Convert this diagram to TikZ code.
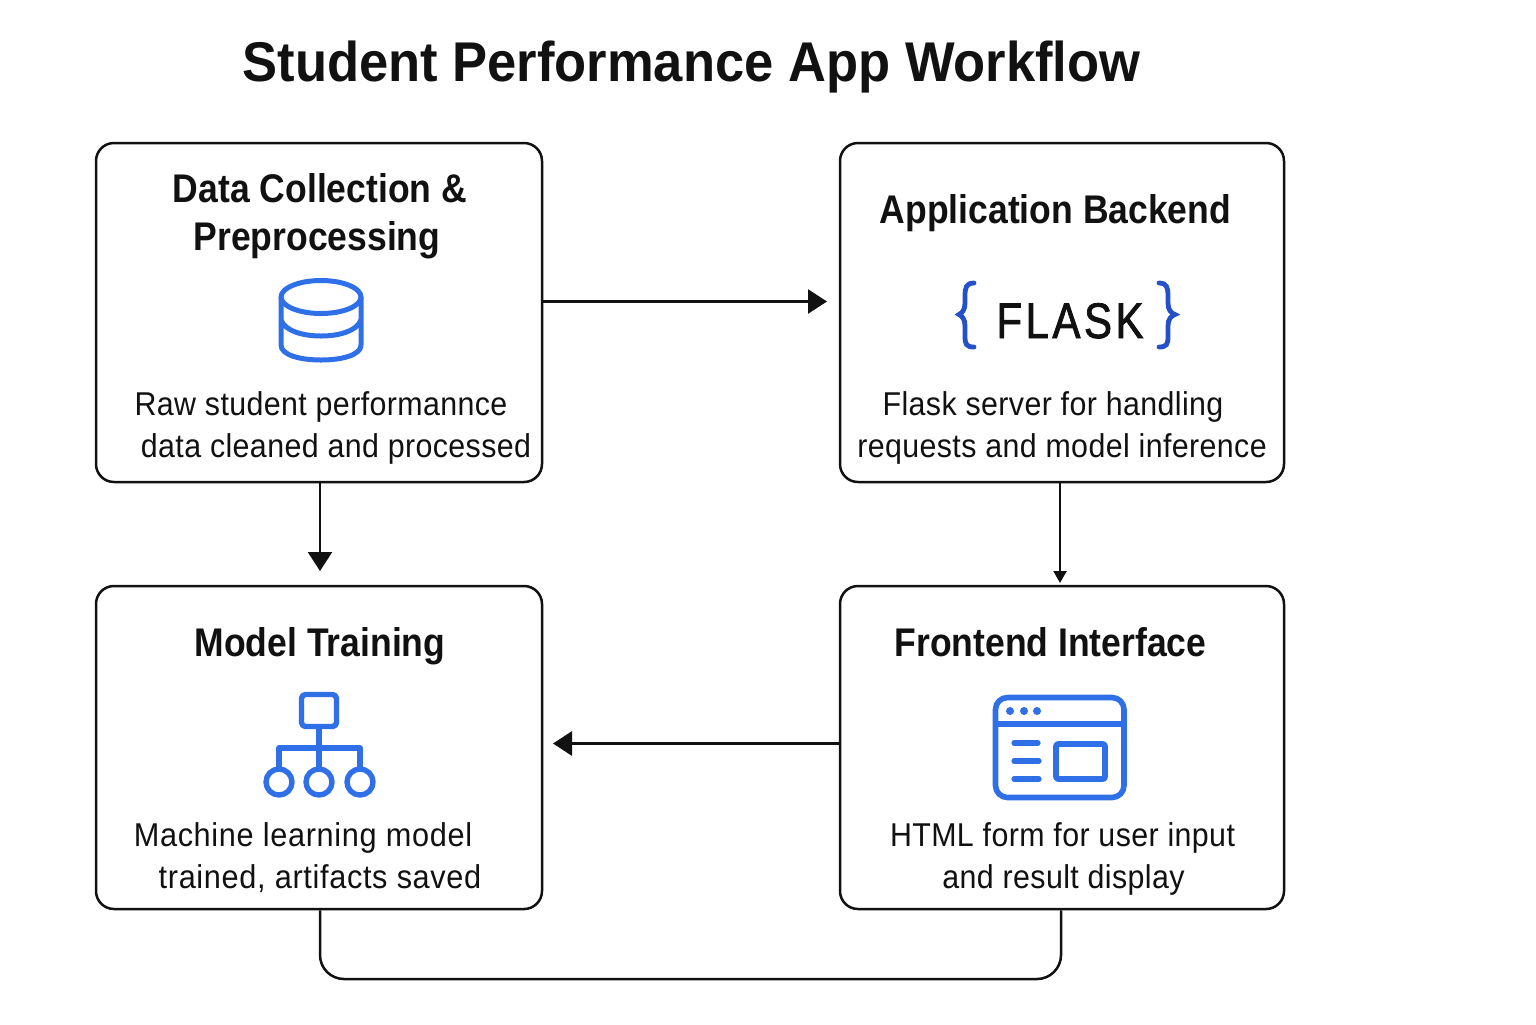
\documentclass[tikz,border=0pt]{standalone}
\usepackage{fontspec}
\usetikzlibrary{arrows.meta}
\setmainfont{Liberation Sans}
\newfontfamily\bodyf[FakeStretch=0.92,LetterSpace=1.2]{Liberation Sans}
\newfontfamily\bodywidef[FakeStretch=0.93,LetterSpace=2]{Liberation Sans}
\newfontfamily\headf[FakeStretch=0.888]{Liberation Sans Bold}
\newfontfamily\bigf[FakeStretch=0.938]{Liberation Sans Bold}
\newfontfamily\flaskf[FakeStretch=0.84,FakeBold=1.6,LetterSpace=7]{Liberation Sans}
\definecolor{iconblue}{HTML}{2F6FE8}
\definecolor{bracedark}{HTML}{2450C8}
\definecolor{ink}{HTML}{111111}
\tikzset{
  x=0.5pt,y=-0.5pt,
  card/.style={draw=ink,line width=1.25pt,rounded corners=9pt,fill=white,inner sep=0pt,minimum width=#1},
  titletext/.style={anchor=base,inner sep=0pt,text=ink,font=\bigf\fontsize{28}{32}\selectfont},
  headtext/.style={anchor=base,inner sep=0pt,text=ink,font=\headf\fontsize{20}{24}\selectfont},
  bodytext/.style={anchor=base,inner sep=0pt,text=ink,font=\bodyf\fontsize{16.5}{20}\selectfont},
  bodywide/.style={anchor=base,inner sep=0pt,text=ink,font=\bodywidef\fontsize{16.5}{20}\selectfont},
  flow/.style={draw=ink,line width=1.25pt},
  bighead/.style={flow,-{Triangle[length=9.5pt,width=12pt,fill=ink]}},
  smallhead/.style={draw=ink,line width=1pt,-{Triangle[length=6pt,width=6.5pt,fill=ink]}},
  icon/.style={draw=iconblue,line width=2.5pt,line join=round},
  iconbrace/.style={draw=bracedark,line width=2.4pt,line cap=round},
}
\begin{document}
\begin{tikzpicture}
\useasboundingbox[fill=white] (0,0) rectangle (1536,1024);
\node[titletext] (title) at (691.5,81) {Student Performance App Workflow};
% cards
\node[card=223pt,minimum height=169.5pt] (A) at (319,312.5) {};
\node[card=222pt,minimum height=169.5pt] (B) at (1062,312.5) {};
\node[card=223pt,minimum height=161.5pt] (C) at (319,747.5) {};
\node[card=222pt,minimum height=161.5pt] (D) at (1062,747.5) {};
% texts
\node[headtext] (a1) at (320,202) {Data Collection \&};
\node[headtext] (a2) at (317,250) {Preprocessing};
\node[bodytext] (a3) at (321,415) {Raw student performannce};
\node[bodytext] (a4) at (336,457) {data cleaned and processed};
\node[headtext] (b1) at (1055.5,223.5) {Application Backend};
\node[bodytext] (b3) at (1053,415) {Flask server for handling};
\node[bodytext] (b4) at (1062,457) {requests and model inference};
\node[anchor=base,inner sep=0pt,text=ink,font=\flaskf\fontsize{25}{30}\selectfont] (flask) at (1070,338) {FLASK};
\node[headtext] (c1) at (320,656.5) {Model Training};
\node[bodywide] (c3) at (303,846) {Machine learning model};
\node[bodywide] (c4) at (320,888) {trained, artifacts saved};
\node[headtext] (d1) at (1050.5,656.5) {Frontend Interface};
\node[bodytext] (d3) at (1062.5,846) {HTML form for user input};
\node[bodytext] (d4) at (1063.5,888) {and result display};
% connectors
\coordinate (abEnd) at (827,301.5);
\coordinate (acEnd) at (320,571);
\coordinate (bdEnd) at (1060,583);
\coordinate (dcEnd) at (553,743.5);
\coordinate (cdLow) at (320,979);
\coordinate (cdLowR) at (1061,979);
\draw[bighead] (A.east |- abEnd) -- (abEnd);
\draw[bighead] (A.south -| acEnd) -- (acEnd);
\draw[smallhead] (B.south -| bdEnd) -- (bdEnd);
\draw[bighead,line width=1.5pt] (D.west |- dcEnd) -- (dcEnd);
\draw[flow,rounded corners=12pt] (C.south -| cdLow) -- (cdLow) -- (cdLowR) -- (D.south -| cdLowR);
% database icon
\draw[icon] (321,297) ellipse [x radius=40,y radius=16.5];
\draw[icon] (281,297) -- (281,345) .. controls (281,355) and (300,360) .. (321,360) .. controls (342,360) and (361,355) .. (361,345) -- (361,297);
\draw[icon] (281,320) .. controls (285,331) and (303,336) .. (321,336) .. controls (339,336) and (357,331) .. (361,320);
% tree icon
\draw[icon,line width=2.7pt,rounded corners=2pt] (301.5,694.5) rectangle (336.5,726.5);
\draw[icon,line width=2.7pt] (319,726.5) -- (319,769);
\draw[icon,line width=2.7pt] (279,769) -- (279,748) -- (360,748) -- (360,769);
\draw[icon,line width=2.7pt] (279,782) circle [radius=13];
\draw[icon,line width=2.7pt] (319,782) circle [radius=13];
\draw[icon,line width=2.7pt] (360,782) circle [radius=13];
% browser icon
\draw[icon,line width=2.8pt,rounded corners=6pt] (995.5,697.5) rectangle (1124,797.5);
\draw[icon,line width=2.8pt] (995.5,724) -- (1124,724);
\fill[iconblue] (1010,711) circle [radius=4] (1024,711) circle [radius=4] (1037,711) circle [radius=4];
\draw[icon,line width=2.6pt,line cap=round] (1014,743) -- (1038,743) (1014,761) -- (1039,761) (1014,779) -- (1039,779);
\draw[icon,line width=2.8pt,rounded corners=1pt] (1056,744) rectangle (1105,779);
% braces
\draw[iconbrace] (974,283) .. controls (966,283) and (965,288) .. (965,296) -- (965,303) .. controls (965,310) and (962,313) .. (959,314.5) .. controls (962,316) and (965,319) .. (965,326) -- (965,336) .. controls (965,344) and (966,347) .. (974,347);
\draw[iconbrace] (1159,283) .. controls (1167,283) and (1168,288) .. (1168,296) -- (1168,303) .. controls (1168,310) and (1171,313) .. (1175,314.5) .. controls (1171,316) and (1168,319) .. (1168,326) -- (1168,336) .. controls (1168,344) and (1167,347) .. (1159,347);
\end{tikzpicture}
\end{document}
